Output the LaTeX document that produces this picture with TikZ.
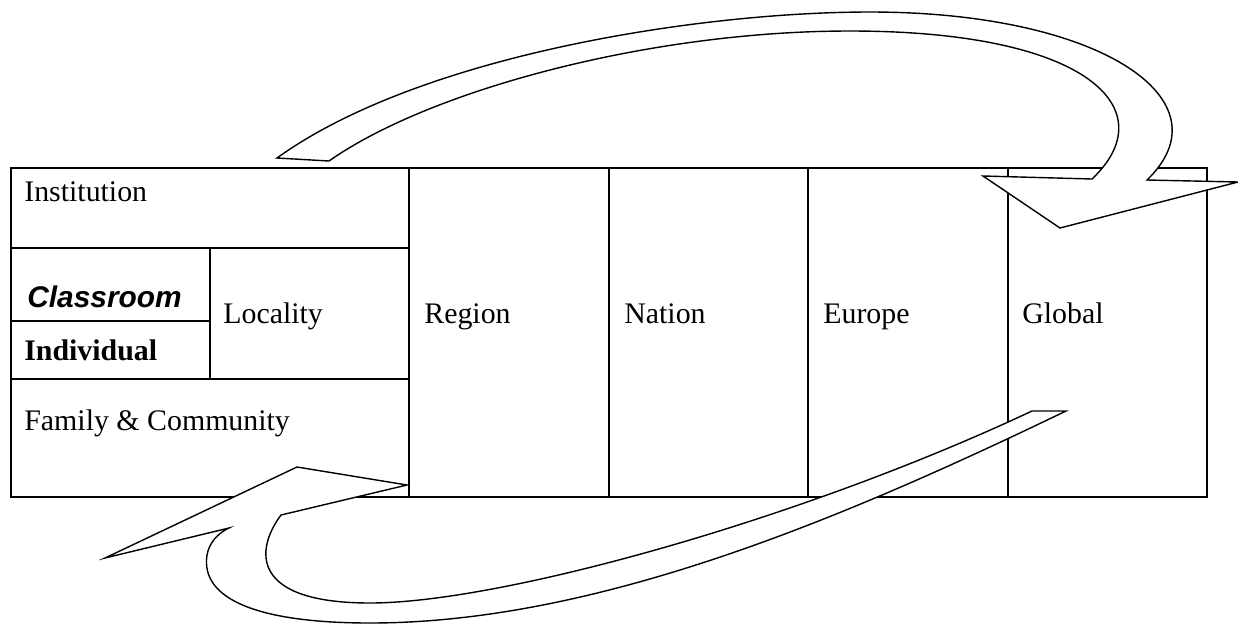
\documentclass[tikz,border=0pt]{standalone}
\usepackage{fontspec}
\setmainfont{Liberation Serif}
\newfontfamily\arialf{Liberation Sans}
\begin{document}
\begin{tikzpicture}[x=0.02cm,y=-0.02cm,
  grid/.style={line width=0.9pt},
  bigarrow/.style={draw=black,fill=white,line width=0.8pt,line join=miter},
  lbl/.style={anchor=base west,inner sep=0pt,font=\fontsize{17}{20}\selectfont}]
\useasboundingbox (0,0) rectangle (1238,623);
% table
\draw[grid] (11,168) rectangle (1207,497);
\foreach \xx in {409,609,808,1008} \draw[grid] (\xx,168) -- (\xx,497);
\draw[grid] (11,248) -- (409,248);
\draw[grid] (11,379) -- (409,379);
\draw[grid] (11,321) -- (210,321);
\draw[grid] (210,248) -- (210,379);
% labels
\node[lbl] (inst) at (24,201) {Institution};
\node[lbl,font=\fontsize{17}{20}\selectfont\arialf\bfseries\itshape] (class) at (27,307) {Classroom};
\node[lbl,font=\fontsize{17}{20}\selectfont\bfseries] (indiv) at (24,360) {Individual};
\node[lbl] (loc) at (223,323) {Locality};
\node[lbl] (fam) at (24,430) {Family \& Community};
\node[lbl] (reg) at (424,323) {Region};
\node[lbl] (nat) at (624,323) {Nation};
\node[lbl] (eur) at (823,323) {Europe};
\node[lbl] (glob) at (1022,323) {Global};
% top curved arrow
\draw[bigarrow] (277,158) .. controls (420,55) and (700,12) .. (870,12)
  .. controls (1100,12) and (1230,100) .. (1147,180)
  -- (1238,182) -- (1060,228) -- (983,176) -- (1092,179)
  .. controls (1165,110) and (1090,31) .. (850,31)
  .. controls (650,31) and (430,90) .. (329,161) -- cycle;
% bottom curved arrow
\draw[bigarrow] (1066,411) .. controls (850,515) and (600,623) .. (370,623)
  .. controls (260,623) and (200,600) .. (207,555)
  .. controls (209,543) and (218,533) .. (229,528)
  -- (105,558) -- (297,467) -- (407,485) -- (281,515)
  .. controls (255,550) and (250,603) .. (370,603)
  .. controls (500,603) and (800,520) .. (1032,411) -- cycle;
\end{tikzpicture}
\end{document}
